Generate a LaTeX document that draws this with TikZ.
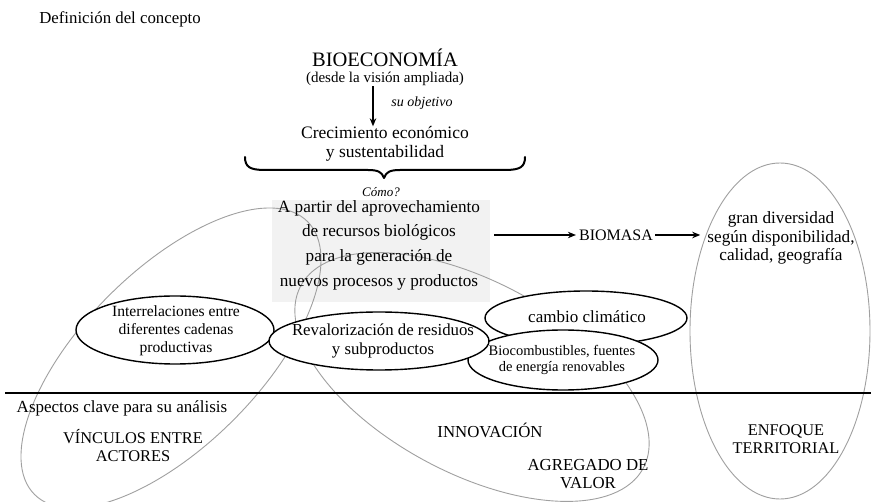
\documentclass[tikz,border=0pt]{standalone}
\usepackage{fontspec}
\setmainfont{Liberation Serif}
\usetikzlibrary{arrows.meta,shapes.geometric}
\newcommand{\fsz}[2]{\fontsize{#1}{#2}\selectfont}
\definecolor{ellgray}{HTML}{A0A0A0}
\definecolor{boxgray}{HTML}{F2F2F2}
\tikzset{
  txt/.style={inner sep=0pt, align=center, text=black},
  blkell/.style={ellipse, draw=black, line width=1.4pt, fill=white, inner sep=0pt},
  grayell/.style={draw=ellgray, line width=0.9pt},
  arr/.style={-{Stealth[length=8pt,width=6.5pt]}, line width=1.2pt},
  bracestyle/.style={line width=2pt, line cap=round, line join=round},
}
\begin{document}
\begin{tikzpicture}[x=1pt,y=-1pt]
\useasboundingbox (0,0) rectangle (871,502);
\fill[white] (0,0) rectangle (871,502);

% grey box behind the central text
\node[fill=boxgray, inner sep=0pt, minimum width=218pt, minimum height=102pt] (box) at (381,251) {};

% grey ellipses
\draw[grayell, rotate around={45:(171,358)}] (171,358) ellipse [x radius=193, y radius=88];
\draw[grayell, rotate around={-28:(472,377)}] (472,377) ellipse [x radius=194, y radius=96];
\draw[grayell] (780,331) ellipse [x radius=90, y radius=168];

% black ellipses
\node[blkell, minimum width=198pt, minimum height=68pt] (inter) at (175,330) {};
\node[blkell, minimum width=202pt, minimum height=54pt] (cambio) at (586,318) {};
\node[blkell, minimum width=190pt, minimum height=60pt] (biocomb) at (563,360) {};
\node[blkell, minimum width=220pt, minimum height=58pt] (reval) at (379,341) {};

% horizontal separator
\coordinate (sepL) at (5,393);
\coordinate (sepR) at (871,393);
\draw[line width=1.3pt] (sepL) -- (sepR);

% texts
\node[txt, font=\fsz{16.8}{19}] (def) at (120,19) {Definición del concepto};
\node[txt, font=\fsz{20.5}{22}] (bio) at (385,58) {BIOECONOMÍA};
\node[txt, font=\fsz{15}{17}] (desde) at (385,79) {(desde la visión ampliada)};
\node[txt, font=\fsz{17.5}{19}] (crec) at (385,144) {Crecimiento económico\\y sustentabilidad};
\node[txt, font=\fsz{14}{16}\itshape] (suobj) at (422,103) {su objetivo};
\coordinate (ax) at (373,0);
\draw[arr] (desde.south -| ax) -- (crec.north -| ax);

% brace
\draw[bracestyle] (245,157) .. controls (245,167) and (250,170) .. (265,170)
  -- (368,170) .. controls (378,170) and (382,172) .. (384,178)
  .. controls (386,172) and (390,170) .. (400,170)
  -- (505,170) .. controls (520,170) and (525,167) .. (525,157);
\node[txt, font=\fsz{13}{15}\itshape] (como) at (381,192) {Cómo?};

\node[txt, font=\fsz{17.2}{24.6}] (boxtxt) at (379,245) {A partir del aprovechamiento\\de recursos biológicos\\para la generación de\\nuevos procesos y productos};

\node[txt, font=\fsz{16}{18}] (biomasa) at (616,235) {BIOMASA};
\node[txt, font=\fsz{17.2}{18.5}] (gran) at (781,238) {gran diversidad\\según disponibilidad,\\calidad, geografía};
\draw[arr, shorten <=4pt] (box.east |- biomasa.west) -- ([xshift=-3pt]biomasa.west);
\draw[arr, shorten >=7pt] ([xshift=2pt]biomasa.east) -- (biomasa.east -| gran.west);

\node[txt, font=\fsz{15.6}{18}] (intertxt) at (176,331) {Interrelaciones entre\\diferentes cadenas\\productivas};
\node[txt, font=\fsz{16.8}{19}] (revaltxt) at ([xshift=4pt]reval.center) {Revalorización de residuos\\y subproductos};
\node[txt, font=\fsz{17}{18}] (cambiotxt) at (587,317) {cambio climático};
\node[txt, font=\fsz{14.5}{16.5}] (biocombtxt) at (562,360) {Biocombustibles, fuentes\\de energía renovables};

\node[txt, font=\fsz{17}{18}] (aspectos) at (122,408) {Aspectos clave para su análisis};
\node[txt, font=\fsz{16.4}{18}] (vinc) at (133,446) {VÍNCULOS ENTRE\\ACTORES};
\node[txt, font=\fsz{16.8}{18}] (innov) at (490,430) {INNOVACIÓN};
\node[txt, font=\fsz{16.8}{18}] (agreg) at (588,474) {AGREGADO DE\\VALOR};
\node[txt, font=\fsz{16.3}{18}] (enfoque) at (786,439) {ENFOQUE\\TERRITORIAL};
\end{tikzpicture}
\end{document}
